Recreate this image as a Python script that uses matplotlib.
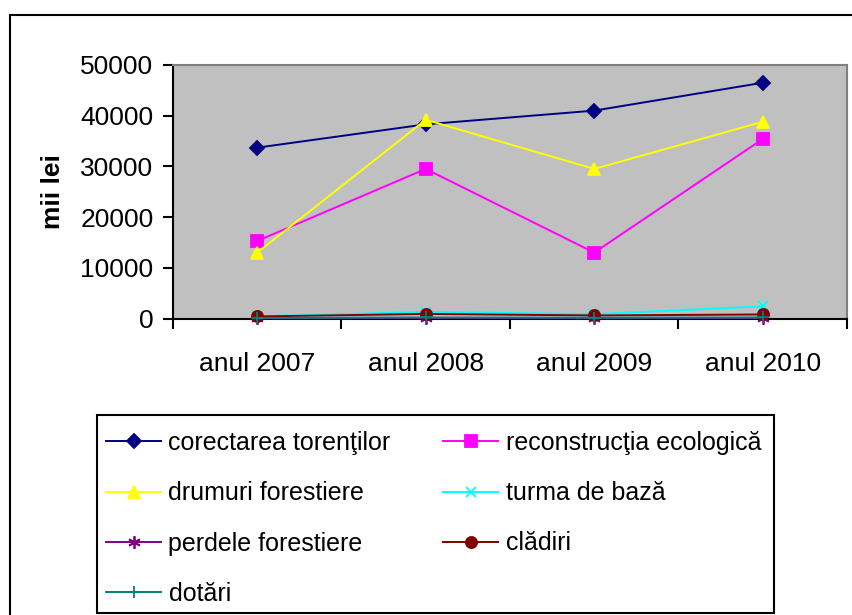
import matplotlib
matplotlib.use("Agg")
import matplotlib.pyplot as plt
from matplotlib.patches import Rectangle
import numpy as np

categories = ["anul 2007", "anul 2008", "anul 2009", "anul 2010"]
corectarea = [33700, 38300, 41000, 46500]
reconstructia = [15300, 29500, 13000, 35400]
drumuri = [13000, 39200, 29500, 38800]
turma = [400, 1300, 850, 2400]
perdele = [50, 100, 50, 100]
cladiri = [400, 900, 600, 800]
dotari = [100, 200, 150, 200]

names = ["corectarea torenţilor", "reconstrucţia ecologică", "drumuri forestiere",
         "turma de bază", "perdele forestiere", "clădiri", "dotări"]
y_ticks = [0, 10000, 20000, 30000, 40000, 50000]

plt.rcParams['font.family'] = ['Liberation Sans', 'DejaVu Sans']
FS = 19
LFS = 18

W, H = 853, 615
fig = plt.figure(figsize=(W / 100, H / 100), dpi=100)
fig.patch.set_facecolor('white')

# outer chart border
fig.patches.append(Rectangle((10 / W, -0.1), 1.5, (1 - 15 / H) + 0.1, transform=fig.transFigure,
                             fill=False, edgecolor='black', linewidth=1.5))

L, R, T, B = 173, 847, 65, 318.5
ax = fig.add_axes([L / W, 1 - B / H, (R - L) / W, (B - T) / H])
ax.set_facecolor('#C0C0C0')

x = np.arange(len(categories))
styles = [
    (corectarea, '#000080', 'D', 7),
    (reconstructia, '#FF00FF', 's', 8),
    (drumuri, '#FFFF00', '^', 9),
    (turma, '#00FFFF', 'x', 7),
    (perdele, '#800080', (6, 2, 0), 9),
    (cladiri, '#800000', 'o', 8),
    (dotari, '#008080', '+', 9),
]
handles = []
for (vals, col, mk, ms), name in zip(styles, names):
    h, = ax.plot(x, vals, color=col, marker=mk, markersize=ms, linewidth=1.4,
                 markeredgecolor=col, markerfacecolor=col, markeredgewidth=1.3,
                 label=name, clip_on=False, zorder=3)
    handles.append(h)

ax.set_xlim(-0.5, len(categories) - 0.5)
ax.set_ylim(0, 50000)
ax.set_yticks(y_ticks)
ax.set_yticklabels([str(v) for v in y_ticks], fontsize=FS)
ax.set_xticks(np.arange(-0.5, len(categories), 1.0))
ax.set_xticklabels([])
ax.set_xticks(x, minor=True)
ax.set_xticklabels(categories, minor=True, fontsize=FS)
ax.tick_params(axis='x', which='minor', length=0, pad=24)
ax.tick_params(axis='x', which='major', length=7, width=1.5, direction='out')
ax.tick_params(axis='y', length=7, width=1.5, direction='out', pad=7)

for s in ['top', 'right']:
    ax.spines[s].set_color('#808080')
    ax.spines[s].set_linewidth(1.5)
for s in ['left', 'bottom']:
    ax.spines[s].set_color('black')
    ax.spines[s].set_linewidth(1.5)
ax.spines['bottom'].set_zorder(2.5)

fig.text(53 / W, 1 - 192 / H, "mii lei", rotation=90, fontsize=FS, fontweight='bold',
         ha='center', va='center')

# legend border
lx0, lx1, ly0, ly1 = 97, 774, 415, 613
fig.patches.append(Rectangle((lx0 / W, 1 - ly1 / H), (lx1 - lx0) / W, (ly1 - ly0) / H,
                             transform=fig.transFigure, fill=False, edgecolor='black', linewidth=1.5))

# row-wise order (legend fills column-first)
order = [0, 2, 4, 6, 1, 3, 5]
leg = fig.legend(handles=[handles[i] for i in order], loc='upper left',
                 bbox_to_anchor=(106 / W, 1 - 431 / H),
                 ncol=2, frameon=False, fontsize=LFS, handlelength=2.2, handletextpad=0.3,
                 columnspacing=2.1, labelspacing=1.05, borderpad=0, borderaxespad=0)

fig.savefig("out.png", dpi=100)
